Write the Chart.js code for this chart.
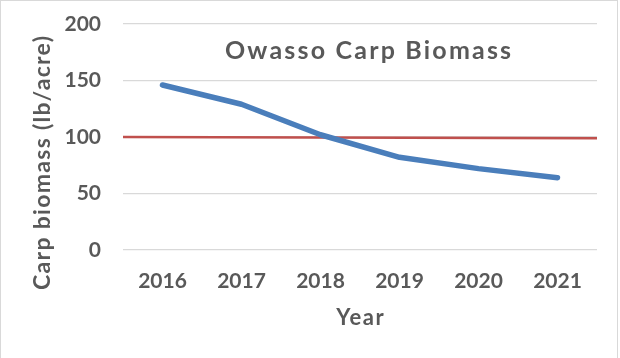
<!DOCTYPE html>
<html>
<head>
<meta charset="utf-8">
<script src="https://cdn.jsdelivr.net/npm/chart.js@4.4.0/dist/chart.umd.min.js"></script>
<style>
  body { margin: 0; background: #fff; }
  #frame { position: absolute; left: 0; top: 0; width: 616px; height: 400px; border: 1px solid #d9d9d9; }
  #wrap { position: absolute; left: 0; top: 0; width: 620px; height: 358px; }
</style>
</head>
<body>
<div id="frame"></div>
<div id="wrap"><canvas id="carpChart" width="620" height="358"></canvas></div>
<script>
// Chart data
const years = ['2016', '2017', '2018', '2019', '2020', '2021'];
const biomass = [146, 129, 102, 82, 72, 64];
const targetPos = [0, 6];
const targetValues = [100, 99];
const yTicks = [0, 50, 100, 150, 200];

const chartTitle = 'Owasso Carp Biomass';
const xTitle = 'Year';
const yTitle = 'Carp biomass (lb/acre)';

const textGray = '#595959';
const fontName = 'Lato';

// Titles are drawn by hand: the chart title sits inside the plot area
// and the axis titles need a bit of letter spacing to look like the original
function drawText(ctx, text, x, y, size, spacing, angle) {
    ctx.save();
    ctx.translate(x, y);
    ctx.rotate(angle || 0);
    ctx.fillStyle = textGray;
    ctx.font = 'bold ' + size + 'px ' + fontName;
    ctx.letterSpacing = spacing + 'px';
    ctx.textAlign = 'center';
    ctx.textBaseline = 'middle';
    ctx.fillText(text, spacing / 2, 0);
    ctx.restore();
}

const titlesPlugin = {
    id: 'titlesPlugin',
    afterDraw(chart) {
        const ctx = chart.ctx;
        const area = chart.chartArea;
        const midX = (area.left + area.right) / 2;
        drawText(ctx, chartTitle, midX + 8, 51, 25, 2.2, 0);
        drawText(ctx, xTitle, midX, 318, 22, 1.5, 0);
        drawText(ctx, yTitle, 43, 163, 23, 1.3, -Math.PI / 2);
    }
};

document.addEventListener('DOMContentLoaded', function() {
    var ctx = document.getElementById('carpChart').getContext('2d');

    var carpChart = new Chart(ctx, {
        type: 'line',
        data: {
            labels: years,
            datasets: [{
                label: 'Carp biomass',
                data: biomass,
                borderColor: '#4a7ebb',
                borderWidth: 5.5,
                borderJoinStyle: 'round',
                borderCapStyle: 'round',
                pointRadius: 0,
                tension: 0,
                order: 1
            }, {
                label: 'Target',
                data: targetPos.map((x, i) => ({ x: x, y: targetValues[i] })),
                xAxisID: 'x2',
                borderColor: '#c0504d',
                borderWidth: 2.5,
                pointRadius: 0,
                order: 2
            }]
        },
        options: {
            responsive: false,
            animation: false,
            layout: { padding: { top: 24, right: 23, left: 0, bottom: 0 } },
            plugins: {
                legend: { display: false },
                tooltip: { enabled: false }
            },
            scales: {
                x: {
                    offset: true,
                    grid: { display: false },
                    border: { display: false },
                    ticks: { color: textGray, font: { family: fontName, size: 21, weight: 'bold' }, padding: 11 },
                    afterFit(scale) { scale.height = 108; }
                },
                x2: {
                    type: 'linear',
                    display: false,
                    min: 0,
                    max: 6
                },
                y: {
                    min: 0,
                    max: 200,
                    afterBuildTicks(scale) { scale.ticks = yTicks.map(v => ({ value: v })); },
                    grid: { color: '#d9d9d9', lineWidth: 1.3, drawTicks: false },
                    border: { display: false },
                    ticks: { color: textGray, font: { family: fontName, size: 21, weight: 'bold' }, padding: 22 },
                    afterFit(scale) {
                        scale.width = 123;
                        scale.paddingTop = 0;
                        scale.paddingBottom = 0;
                    }
                }
            }
        },
        plugins: [titlesPlugin]
    });
});
</script>
</body>
</html>
